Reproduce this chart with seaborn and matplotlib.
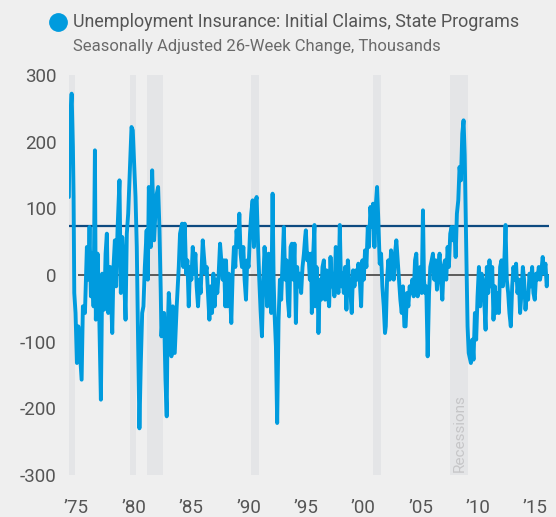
import numpy as np
import pandas as pd
import matplotlib
matplotlib.use("Agg")
import matplotlib.pyplot as plt
from matplotlib.lines import Line2D
import seaborn as sns

# 26-week change in initial claims (thousands) as (decimal year, value)
years_a = [1974.69, 1974.75, 1974.93, 1975.04, 1975.10, 1975.16, 1975.27, 1975.39, 1975.51, 1975.62,
           1975.80, 1975.91, 1976.09, 1976.26, 1976.38, 1976.49, 1976.61, 1976.72, 1976.84, 1976.96,
           1977.04, 1977.19, 1977.31, 1977.48, 1977.60, 1977.77, 1977.89, 1978.00, 1978.12, 1978.29,
           1978.47, 1978.58, 1978.70, 1978.81, 1978.93, 1979.10, 1979.22, 1979.34, 1979.45, 1979.63,
           1979.74, 1979.86, 1979.97, 1980.15, 1980.26, 1980.38, 1980.50, 1980.61, 1980.73, 1980.84,
           1980.96, 1981.08, 1981.19, 1981.31, 1981.42]
vals_a = [117, 217, 272, 192, 117, -27, -57, -132, -77, -107,
          -157, -47, -57, 42, -7, 72, -32, 32, -47, 187,
          -67, 32, -37, -187, 2, -52, 32, 62, -57, 12,
          -87, 12, 52, -17, 67, 142, -27, 57, 27, -67,
          62, 92, 142, 222, 217, 167, 117, 42, -107, -230,
          -132, -57, -47, 12, 52]

years_b = [1981.47, 1981.57, 1981.66, 1981.83, 1981.95, 1982.12, 1982.30, 1982.47, 1982.59, 1982.70,
           1982.76, 1982.88, 1982.99, 1983.11, 1983.22, 1983.28, 1983.40, 1983.51, 1983.63, 1983.75,
           1983.92, 1984.09, 1984.27, 1984.38, 1984.56, 1984.67, 1984.79, 1984.91, 1985.02, 1985.14,
           1985.25, 1985.37, 1985.49, 1985.60, 1985.72, 1985.83, 1985.95, 1986.07, 1986.18, 1986.36,
           1986.47, 1986.59, 1986.70, 1986.82, 1986.94, 1987.05, 1987.17, 1987.29, 1987.40, 1987.52,
           1987.63, 1987.75, 1987.87, 1987.98, 1988.10, 1988.21, 1988.33]
vals_b = [67, -7, 132, 42, 157, 52, 117, 132, 67, -27,
          -92, -57, -57, -157, -212, -97, -27, -57, -122, -47,
          -117, -47, 12, 62, 77, 12, 77, 2, 22, -47,
          12, -7, 42, 2, 32, -17, -47, -7, -27, 52,
          27, 2, 12, -27, -67, -17, -57, 2, -47, -7,
          -27, 2, 47, 22, -7, 22, -47]

years_c = [1988.39, 1988.50, 1988.62, 1988.74, 1988.85, 1988.97, 1989.08, 1989.20, 1989.31, 1989.43,
           1989.55, 1989.66, 1989.78, 1989.90, 1990.01, 1990.13, 1990.24, 1990.36, 1990.48, 1990.59,
           1990.71, 1990.82, 1990.94, 1991.06, 1991.17, 1991.29, 1991.40, 1991.52, 1991.64, 1991.75,
           1991.87, 1991.98, 1992.10, 1992.22, 1992.33, 1992.45, 1992.54, 1992.62, 1992.74, 1992.85,
           1992.97, 1993.09, 1993.20, 1993.32, 1993.43, 1993.55, 1993.67, 1993.78, 1993.90, 1994.02,
           1994.13, 1994.25, 1994.36, 1994.48, 1994.59, 1994.71, 1994.83, 1994.94, 1995.06, 1995.18,
           1995.29]
vals_c = [22, -47, 2, -27, -72, 2, 42, 12, 67, 42,
          92, 32, 12, 42, -7, -37, 22, 12, 62, 92,
          112, 42, 107, 117, 52, -7, -52, -92, -7, 42,
          2, -47, 32, -27, -57, 122, -7, -57, -107, -222,
          -67, -7, -37, 22, 72, -7, 22, -37, -62, 42,
          47, -7, 47, -72, 12, -17, 2, -27, 12, 32,
          57]

years_d = [1995.35, 1995.47, 1995.58, 1995.70, 1995.81, 1995.87, 1995.99, 1996.10, 1996.16, 1996.28,
           1996.39, 1996.45, 1996.57, 1996.68, 1996.80, 1996.92, 1997.03, 1997.15, 1997.26, 1997.38,
           1997.50, 1997.61, 1997.73, 1997.84, 1997.96, 1998.08, 1998.19, 1998.31, 1998.42, 1998.54,
           1998.66, 1998.77, 1998.89, 1999.01, 1999.12, 1999.24, 1999.35, 1999.47, 1999.59, 1999.70,
           1999.82, 1999.93, 2000.05, 2000.17, 2000.28, 2000.40, 2000.51, 2000.63, 2000.75, 2000.86,
           2000.98, 2001.09, 2001.21, 2001.33, 2001.44, 2001.56, 2001.67, 2001.79, 2001.91, 2002.02,
           2002.14, 2002.25, 2002.32]
vals_d = [67, 22, 32, -7, 32, -57, 30, 75, -47, 12,
          -27, -87, -7, -37, 12, 22, -37, 7, -27, -47,
          27, -17, -7, -32, 42, 12, -27, 75, -17, 2,
          -27, 12, -52, 22, -7, -27, -57, 7, -17, 7,
          -7, 17, -7, -47, 22, -7, 37, 12, 72, 42,
          102, 72, 107, 42, 102, 132, 82, 17, 32, -17,
          -47, -87, -77]

years_e = [2002.43, 2002.54, 2002.66, 2002.78, 2002.89, 2003.01, 2003.12, 2003.24, 2003.36, 2003.47,
           2003.59, 2003.71, 2003.82, 2003.94, 2004.05, 2004.17, 2004.29, 2004.40, 2004.52, 2004.63,
           2004.75, 2004.87, 2004.98, 2005.10, 2005.21, 2005.33, 2005.45, 2005.56, 2005.65, 2005.74,
           2005.85, 2005.97, 2006.09, 2006.20, 2006.32, 2006.43, 2006.55, 2006.67, 2006.78, 2006.90,
           2007.01, 2007.13, 2007.25, 2007.36, 2007.48, 2007.59, 2007.71, 2007.82, 2007.94, 2008.06,
           2008.17, 2008.29, 2008.41, 2008.52, 2008.64, 2008.75, 2008.87, 2008.99, 2009.10, 2009.20,
           2009.30, 2009.38, 2009.45]
vals_e = [-7, 22, -7, 37, 12, -7, 32, 52, 22, -7,
          -37, -57, -17, -77, -77, -27, -47, -17, -27, -7,
          -32, 22, 32, -32, -7, 12, -27, 97, -7, -27,
          -17, -122, -27, 12, 22, 32, -7, 22, -22, 12,
          32, -7, -37, 12, 22, -7, 42, 12, 62, 72,
          52, 72, 27, 92, 112, 162, 142, 212, 232, 180,
          72, -7, -77]

years_f = [2009.55, 2009.74, 2009.86, 2009.97, 2010.09, 2010.20, 2010.32, 2010.44, 2010.55, 2010.67,
           2010.78, 2010.90, 2011.02, 2011.13, 2011.25, 2011.36, 2011.48, 2011.60, 2011.71, 2011.83,
           2011.94, 2012.06, 2012.18, 2012.29, 2012.41, 2012.52, 2012.64, 2012.76, 2012.87, 2012.99,
           2013.10, 2013.22, 2013.34, 2013.45, 2013.57, 2013.68, 2013.80, 2013.92, 2014.03, 2014.15,
           2014.27, 2014.38, 2014.50, 2014.61, 2014.73, 2014.85, 2014.96, 2015.08, 2015.19, 2015.31,
           2015.43, 2015.54, 2015.66, 2015.77, 2015.89, 2016.00, 2016.12, 2016.24, 2016.35, 2016.47,
           2016.53]
vals_f = [-117, -132, -97, -127, -57, -97, -32, 12, -47, 2,
          -7, -37, -82, 12, -27, 22, -17, 12, -67, -17,
          -57, -27, -57, 12, 22, -17, 12, 75, -7, -27,
          -57, -77, -17, 12, -7, 17, -27, -7, -57, -27,
          12, -7, -52, -27, -37, 2, -17, 12, -27, -37,
          2, -7, 12, -7, 7, 27, 2, 17, -17, -2,
          -7]

# recession periods (start, end) in decimal years
rec_start = [1973.85, 1980.00, 1981.54, 1990.54, 2001.21, 2007.96]
rec_end = [1975.21, 1980.54, 1982.88, 1991.25, 2001.92, 2009.50]

ref_level = 74  # horizontal reference line
tick_years = [1975, 1980, 1985, 1990, 1995, 2000, 2005, 2010, 2015]
tick_labels = ["\u201975", "\u201980", "\u201985", "\u201990", "\u201995",
               "\u201900", "\u201905", "\u201910", "\u201915"]

df = pd.DataFrame({
    "year": years_a + years_b + years_c + years_d + years_e + years_f,
    "value": vals_a + vals_b + vals_c + vals_d + vals_e + vals_f,
})

sns.set_style("white")
plt.rcParams["font.family"] = ["Roboto", "DejaVu Sans"]

bg = "#efefef"
blue = "#009bde"
txt = "#555555"

fig = plt.figure(figsize=(5.56, 5.17), dpi=100)
fig.patch.set_facecolor(bg)
ax = fig.add_axes([69 / 556, 1 - 475 / 517, 480 / 556, 400 / 517])
ax.set_facecolor(bg)

for s, e in zip(rec_start, rec_end):
    ax.axvspan(s, e, color="#e4e5e7", lw=0, zorder=0)

ax.axhline(ref_level, color="#0d4a80", lw=1.6, zorder=1)
ax.hlines(0, 1975.5, 2016.55, color="#5a5a5a", lw=1.4, zorder=1)

sns.lineplot(data=df, x="year", y="value", ax=ax, color=blue, linewidth=2.8,
             estimator=None, legend=False, zorder=3)

ax.text(2008.75, -296, "Recessions", rotation=90, ha="center", va="bottom",
        color="#c6c6c8", fontsize=11)

ax.set_xlim(1974.7, 2016.55)
ax.set_ylim(-300, 300)
ax.set_yticks([-300, -200, -100, 0, 100, 200, 300])
ax.set_yticklabels(["-300", "-200", "-100", "0", "100", "200", "300"])
ax.set_xticks([y + 0.35 for y in tick_years])
ax.set_xticklabels(tick_labels)
ax.tick_params(axis="both", length=0, labelsize=13.5, colors=txt)
ax.tick_params(axis="y", pad=9)
ax.tick_params(axis="x", pad=17)
ax.set_xlabel("")
ax.set_ylabel("")
for sp in ax.spines.values():
    sp.set_visible(False)

# title with round legend marker
fig.add_artist(Line2D([58 / 556], [1 - 22 / 517], marker="o", markersize=12.5,
                      color=blue, transform=fig.transFigure))
fig.text(73 / 556, 1 - 22 / 517, "Unemployment Insurance: Initial Claims, State Programs",
         ha="left", va="center", fontsize=12.9, color=txt)
fig.text(73 / 556, 1 - 47 / 517, "Seasonally Adjusted 26-Week Change, Thousands",
         ha="left", va="center", fontsize=12, color="#6a6a6a")

fig.savefig("out.png", dpi=100, facecolor=bg)
